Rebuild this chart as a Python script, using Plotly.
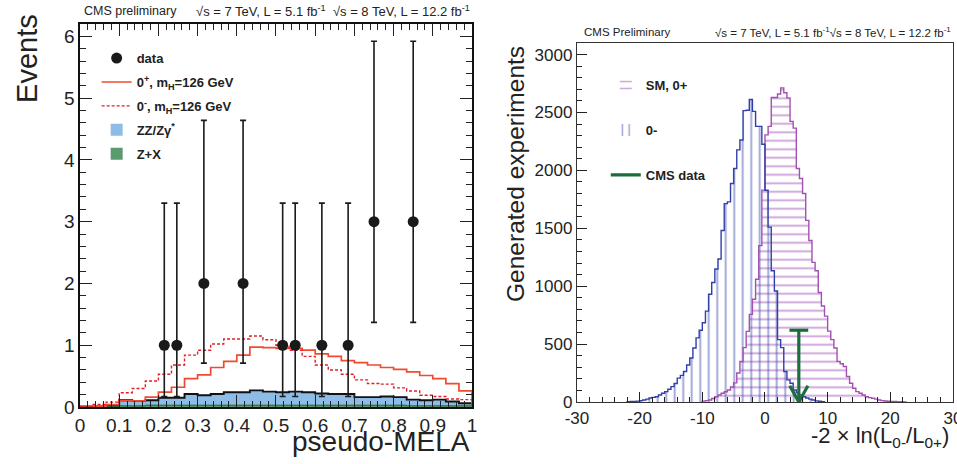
import numpy as np
import plotly.graph_objects as go

# ---------------- Left panel: pseudo-MELA ----------------
mela_start = 0.0
mela_width = 1.0 / 30.0
sig_0plus = [0.00, 0.01, 0.04, 0.10, 0.10, 0.16, 0.24, 0.32, 0.46, 0.52,
             0.64, 0.74, 0.84, 0.97, 0.96, 0.95, 0.95, 0.92, 0.86, 0.82,
             0.75, 0.72, 0.68, 0.64, 0.61, 0.57, 0.51, 0.46, 0.38, 0.26]
sig_0minus = [0.00, 0.04, 0.08, 0.23, 0.30, 0.42, 0.53, 0.68, 0.84, 0.92,
              1.02, 1.10, 1.10, 1.15, 1.09, 1.00, 0.92, 0.82, 0.68, 0.60,
              0.53, 0.44, 0.38, 0.37, 0.31, 0.26, 0.19, 0.17, 0.13, 0.12]
bkg_zz = [0.01, 0.00, 0.02, 0.09, 0.08, 0.08, 0.12, 0.12, 0.18, 0.16,
          0.18, 0.21, 0.21, 0.24, 0.22, 0.21, 0.22, 0.21, 0.19, 0.18,
          0.18, 0.13, 0.13, 0.14, 0.13, 0.10, 0.09, 0.10, 0.07, 0.04]
bkg_zx = [0.00, 0.01, 0.01, 0.02, 0.02, 0.03, 0.03, 0.03, 0.03, 0.03,
          0.03, 0.03, 0.03, 0.03, 0.03, 0.03, 0.03, 0.03, 0.03, 0.03,
          0.03, 0.03, 0.03, 0.03, 0.03, 0.02, 0.02, 0.02, 0.02, 0.02]
data_x = [0.215, 0.247, 0.316, 0.416, 0.517, 0.549, 0.617, 0.684, 0.750, 0.850]
data_y = [1, 1, 2, 2, 1, 1, 1, 1, 3, 3]
data_err_up = [2.30, 2.30, 2.64, 2.64, 2.30, 2.30, 2.30, 2.30, 2.92, 2.92]
data_err_dn = [0.83, 0.83, 1.29, 1.29, 0.83, 0.83, 0.83, 0.83, 1.63, 1.63]

# ---------------- Right panel: -2 ln(L0-/L0+) ----------------
llr_width = 0.5
sm_start = -10.0
sm_counts = [8, 12, 17, 30, 46, 60, 75, 88, 104, 130,
             165, 250, 350, 470, 610, 757, 887, 1060, 1350, 1830,
             2307, 2380, 2630, 2630, 2660, 2713, 2670, 2626, 2423, 2365,
             2017, 1930, 1800, 1568, 1394, 1206, 1133, 945, 829, 742,
             612, 539, 467, 351, 330, 307, 220, 162, 119, 90,
             75, 60, 46, 38, 32, 25, 17, 12, 9, 7, 5, 4, 3, 2, 1]
ps_start = -22.0
ps_counts = [3, 4, 5, 8, 12, 17, 25, 35, 40, 46,
             60, 75, 90, 110, 133, 160, 206, 230, 264, 320,
             380, 467, 554, 620, 684, 785, 930, 1032, 1148, 1235,
             1481, 1713, 1728, 1887, 2017, 2177, 2263, 2516, 2520, 2612,
             2510, 2380, 2380, 2226, 1829, 1510, 1133, 959, 539, 470,
             264, 191, 162, 104, 80, 60, 46, 35, 25, 17, 10, 6, 3]
cms_data_llr = 5.4
right_xticks = [-30, -20, -10, 0, 10, 20, 30]
right_xticklabels = ["-30", "-20", "-10", "0", "10", "20", "30"]


def step(start, width, vals):
    vals = np.asarray(vals, dtype=float)
    edges = start + width * np.arange(len(vals) + 1)
    x = np.concatenate([[edges[0]], edges[:-1], [edges[-1], edges[-1]]])
    y = np.concatenate([[0.0], vals, [vals[-1], 0.0]])
    return x, y


def centers(start, width, vals):
    return start + width * (np.arange(len(vals)) + 0.5)


fig = go.Figure()

# ---- left panel traces ----
bkg_total = np.asarray(bkg_zz) + np.asarray(bkg_zx)
cx = centers(mela_start, mela_width, bkg_total)
fig.add_trace(go.Bar(x=cx, y=bkg_total, width=mela_width,
                     marker=dict(color="#8dbde6", line=dict(width=0)),
                     name="<b>ZZ/Zγ<sup>*</sup></b>", legendrank=4, legendgroup="zz",
                     xaxis="x", yaxis="y", legend="legend"))
fig.add_trace(go.Bar(x=cx, y=bkg_zx, width=mela_width,
                     marker=dict(color="#5a9a6c", line=dict(width=0)),
                     name="<b>Z+X</b>", legendrank=5, legendgroup="zx",
                     xaxis="x", yaxis="y", legend="legend"))
x, y = step(mela_start, mela_width, bkg_total)
fig.add_trace(go.Scatter(x=x, y=y, mode="lines", line=dict(shape="hv", color="#111111", width=1.9),
                         showlegend=False, hoverinfo="skip", xaxis="x", yaxis="y"))
x, y = step(mela_start, mela_width, bkg_zx)
fig.add_trace(go.Scatter(x=x, y=y, mode="lines", line=dict(shape="hv", color="#2f5f3f", width=1.0),
                         showlegend=False, hoverinfo="skip", xaxis="x", yaxis="y"))
x, y = step(mela_start, mela_width, sig_0plus)
fig.add_trace(go.Scatter(x=x, y=y, mode="lines", line=dict(shape="hv", color="#f04a30", width=1.7),
                         name="<b>0<sup>+</sup>, m<sub>H</sub>=126 GeV</b>", legendgroup="p",
                         legendrank=2, xaxis="x", yaxis="y", legend="legend"))
x, y = step(mela_start, mela_width, sig_0minus)
fig.add_trace(go.Scatter(x=x, y=y, mode="lines",
                         line=dict(shape="hv", color="#e0202a", width=1.4, dash="3px,2px"),
                         name="<b>0<sup>-</sup>, m<sub>H</sub>=126 GeV</b>", legendgroup="m",
                         legendrank=3, xaxis="x", yaxis="y", legend="legend"))
fig.add_trace(go.Scatter(x=data_x, y=data_y, mode="markers",
                         marker=dict(color="#1a1a1a", size=11),
                         error_y=dict(type="data", array=data_err_up, arrayminus=data_err_dn,
                                      color="#1a1a1a", thickness=1.6, width=3),
                         name="<b>data</b>", legendrank=1, legendgroup="d",
                         xaxis="x", yaxis="y", legend="legend"))

# ---- right panel traces ----
sx = centers(sm_start, llr_width, sm_counts)
fig.add_trace(go.Bar(x=sx, y=sm_counts, width=llr_width,
                     marker=dict(color="rgba(0,0,0,0)", line=dict(width=0),
                                 pattern=dict(shape="-", fgcolor="#9c48b2", bgcolor="rgba(0,0,0,0)",
                                              size=8.5, solidity=0.22)),
                     name="<b>SM, 0+</b>", legendrank=1, legendgroup="sm",
                     xaxis="x2", yaxis="y2", legend="legend2"))
px_ = centers(ps_start, llr_width, ps_counts)
fig.add_trace(go.Bar(x=px_, y=ps_counts, width=llr_width,
                     marker=dict(color="rgba(0,0,0,0)", line=dict(width=0),
                                 pattern=dict(shape="|", fgcolor="#3848aa", bgcolor="rgba(0,0,0,0)",
                                              size=8.5, solidity=0.22)),
                     name="<b>0-</b>", legendrank=2, legendgroup="ps",
                     xaxis="x2", yaxis="y2", legend="legend2"))
x, y = step(sm_start, llr_width, sm_counts)
fig.add_trace(go.Scatter(x=x, y=y, mode="lines", line=dict(shape="hv", color="#a44fb4", width=1.4),
                         showlegend=False, hoverinfo="skip", xaxis="x2", yaxis="y2"))
x, y = step(ps_start, llr_width, ps_counts)
fig.add_trace(go.Scatter(x=x, y=y, mode="lines", line=dict(shape="hv", color="#3040a8", width=1.4),
                         showlegend=False, hoverinfo="skip", xaxis="x2", yaxis="y2"))
arrow_top = 620
arrow_head_dx = 1.45
arrow_head_dy = 140
cap_dx = 1.5
fig.add_trace(go.Scatter(
    x=[cms_data_llr - cap_dx, cms_data_llr + cap_dx, None, cms_data_llr, cms_data_llr, None,
       cms_data_llr - arrow_head_dx, cms_data_llr, cms_data_llr + arrow_head_dx],
    y=[arrow_top, arrow_top, None, arrow_top, 0, None, arrow_head_dy, 0, arrow_head_dy],
    mode="lines", line=dict(color="#1b6e3c", width=3.2), cliponaxis=False,
    name="<b>CMS data</b>", legendrank=3, legendgroup="cms",
    xaxis="x2", yaxis="y2", legend="legend2"))

font_family = "Liberation Sans, Arial, sans-serif"

fig.update_layout(
    width=957, height=464,
    margin=dict(l=0, r=0, t=0, b=0, autoexpand=False),
    barmode="overlay", bargap=0,
    paper_bgcolor="white", plot_bgcolor="white",
    font=dict(family=font_family, color="#222222"),
    xaxis=dict(domain=[0.0836, 0.4932], range=[0, 1], anchor="y", dtick=0.1, tick0=0,
               ticks="inside", ticklen=12, tickwidth=1.2, tickcolor="#222", automargin=False,
               minor=dict(ticks="inside", ticklen=6, dtick=0.02, tickcolor="#222"),
               showline=True, linecolor="#111", linewidth=1.5, mirror="ticks",
               ticklabeloverflow="allow",
               showgrid=False, zeroline=False, tickfont=dict(size=19)),
    yaxis=dict(domain=[0.1228, 0.9483], range=[0, 6.2], anchor="x", dtick=1, tick0=0,
               ticks="inside", ticklen=12, tickwidth=1.2, tickcolor="#222", automargin=False,
               minor=dict(ticks="inside", ticklen=6, dtick=0.2, tickcolor="#222"),
               showline=True, linecolor="#111", linewidth=1.5, mirror="ticks",
               showgrid=False, zeroline=False, tickfont=dict(size=19)),
    xaxis2=dict(domain=[0.6029, 0.9958], range=[-30, 30], anchor="y2",
                tickvals=right_xticks, ticktext=right_xticklabels, automargin=False,
                ticks="inside", ticklen=10, tickwidth=1.2, tickcolor="#222",
                minor=dict(ticks="inside", ticklen=5, dtick=2, tickcolor="#222"),
                showline=True, linecolor="#333", linewidth=1.3, mirror=True,
                ticklabeloverflow="allow",
                showgrid=False, zeroline=False, tickfont=dict(size=17)),
    yaxis2=dict(domain=[0.1336, 0.9073], range=[0, 3100], anchor="x2", dtick=500, tick0=0,
                ticks="inside", ticklen=10, tickwidth=1.2, tickcolor="#222", automargin=False,
                minor=dict(ticks="inside", ticklen=5, dtick=100, tickcolor="#222"),
                showline=True, linecolor="#333", linewidth=1.3, mirror=True,
                showgrid=False, zeroline=False, tickfont=dict(size=17)),
    legend=dict(x=0.101, y=0.907, xanchor="left", yanchor="top", bgcolor="rgba(0,0,0,0)",
                font=dict(size=13, color="#222"), tracegroupgap=4, itemwidth=30),
    legend2=dict(x=0.633, y=0.849, xanchor="left", yanchor="top", bgcolor="rgba(0,0,0,0)",
                 font=dict(size=13, color="#222"), tracegroupgap=25, itemwidth=30),
    showlegend=True,
)

annotations = [
    dict(text="CMS preliminary", x=0.0857, y=0.976, xref="paper", yref="paper",
         xanchor="left", yanchor="middle", showarrow=False, font=dict(size=12.5)),
    dict(text="√s = 7 TeV, L = 5.1 fb<sup>-1</sup>  √s = 8 TeV, L = 12.2 fb<sup>-1</sup>",
         x=0.4932, y=0.976, xref="paper", yref="paper",
         xanchor="right", yanchor="middle", showarrow=False, font=dict(size=13)),
    dict(text="CMS Preliminary", x=0.608, y=0.931, xref="paper", yref="paper",
         xanchor="left", yanchor="middle", showarrow=False, font=dict(size=11.5)),
    dict(text="√s = 7 TeV, L = 5.1 fb<sup>-1</sup>√s = 8 TeV, L = 12.2 fb<sup>-1</sup>",
         x=0.996, y=0.931, xref="paper", yref="paper",
         xanchor="right", yanchor="middle", showarrow=False, font=dict(size=11.5)),
    dict(text="Events", x=0.028, y=0.975, xref="paper", yref="paper", textangle=-90,
         xanchor="center", yanchor="top", showarrow=False, font=dict(size=29)),
    dict(text="Generated experiments", x=0.538, y=0.905, xref="paper", yref="paper", textangle=-90,
         xanchor="center", yanchor="top", showarrow=False, font=dict(size=24.5)),
    dict(text="pseudo-MELA", x=0.4932, y=0.048, xref="paper", yref="paper",
         xanchor="right", yanchor="middle", showarrow=False, font=dict(size=28)),
    dict(text="-2 × ln(L<sub>0-</sub>/L<sub>0+</sub>)", x=0.994, y=0.058, xref="paper", yref="paper",
         xanchor="right", yanchor="middle", showarrow=False, font=dict(size=22)),
]
fig.update_layout(annotations=annotations)

fig.write_html("out.html", config={"displayModeBar": False},
               post_script="document.body.style.margin='0px';")
